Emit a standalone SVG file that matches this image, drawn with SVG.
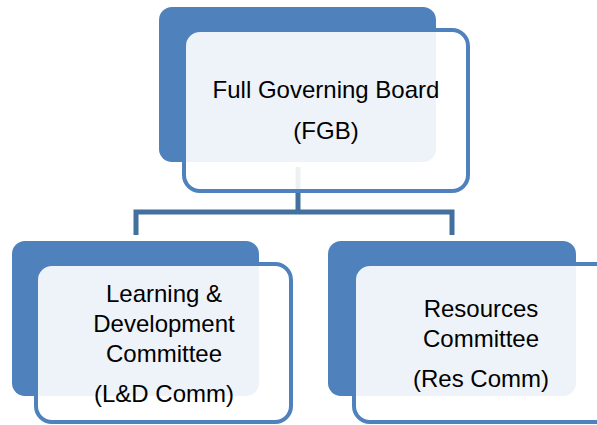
<svg xmlns="http://www.w3.org/2000/svg" width="597" height="425" viewBox="0 0 597 425">
<style>
.back{fill:#4f81bd}
.front{fill:#ffffff;fill-opacity:0.9;stroke:#4f81bd;stroke-width:4}
.conn{fill:none;stroke:#41719c;stroke-width:5}
text{font-family:"Liberation Sans",Arial,sans-serif;font-size:24px;fill:#000;text-anchor:middle}
</style>
<rect width="597" height="425" fill="#ffffff"/>
<g id="connectors">
<path class="conn" d="M298 167 V212"/>
<path class="conn" d="M136 235 V212 H452 V235"/>
</g>
<g id="fgb">
<rect class="back" x="159" y="7" width="277" height="155" rx="13"/>
<rect class="front" x="184" y="30" width="284" height="161" rx="16"/>
<text x="326" y="98">Full Governing Board</text>
<text x="326" y="139">(FGB)</text>
</g>
<g id="ld">
<rect class="back" x="12" y="241" width="247" height="155" rx="13"/>
<rect class="front" x="36" y="264" width="255" height="158" rx="16"/>
<text x="164" y="302">Learning &amp;</text>
<text x="164" y="332">Development</text>
<text x="164" y="362">Committee</text>
<text x="164" y="402">(L&amp;D Comm)</text>
</g>
<g id="res">
<rect class="back" x="328" y="241" width="248" height="155" rx="13"/>
<rect class="front" x="354" y="264" width="260" height="158" rx="16"/>
<text x="481" y="317">Resources</text>
<text x="481" y="347">Committee</text>
<text x="481" y="387">(Res Comm)</text>
</g>
</svg>
